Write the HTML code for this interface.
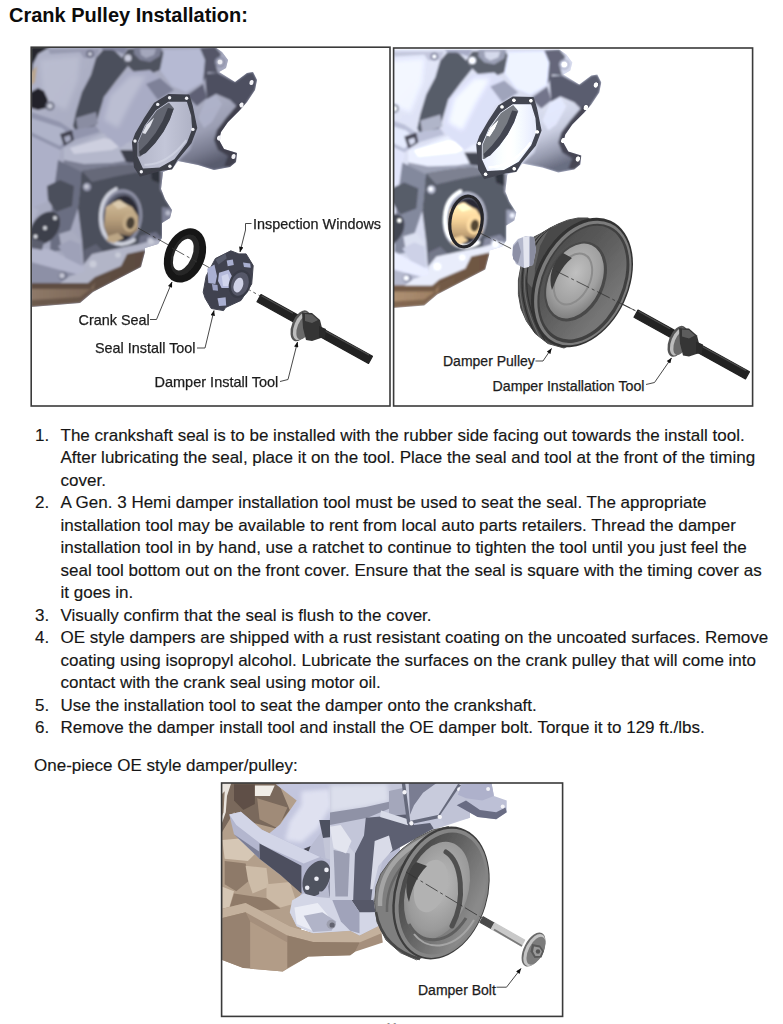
<!DOCTYPE html>
<html><head><meta charset="utf-8"><title>Crank Pulley Installation</title>
<style>
html,body{margin:0;padding:0;background:#fff;}
body{width:783px;height:1024px;position:relative;overflow:hidden;font-family:"Liberation Sans",sans-serif;color:#161616;}
.title{position:absolute;left:9px;top:3px;font-weight:bold;font-size:20px;line-height:24px;white-space:nowrap;color:#0c0c0c;}
.ln{position:absolute;left:60.5px;font-size:17px;line-height:20px;white-space:nowrap;-webkit-text-stroke:0.15px #161616;}
.num{position:absolute;left:35px;font-size:17px;line-height:20px;white-space:nowrap;-webkit-text-stroke:0.15px #161616;}
#art{position:absolute;left:0;top:0;}
.lbl{font-family:"Liberation Sans",sans-serif;fill:#1c1c1c;stroke:#1c1c1c;stroke-width:0.25px;}
.ld{fill:none;stroke:#333;stroke-width:0.9;}
.cl{fill:none;stroke:#333;stroke-width:0.8;stroke-dasharray:14 3 3 3;}
</style></head><body>
<div class="title">Crank Pulley Installation:</div>
<div class="num" style="top:426px">1.</div>
<div class="ln" style="top:426px">The crankshaft seal is to be installed with the rubber side facing out towards the install tool.</div>
<div class="ln" style="top:448px">After lubricating the seal, place it on the tool. Place the seal and tool at the front of the timing</div>
<div class="ln" style="top:471px">cover.</div>
<div class="num" style="top:493px">2.</div>
<div class="ln" style="top:493px">A Gen. 3 Hemi damper installation tool must be used to seat the seal. The appropriate</div>
<div class="ln" style="top:516px">installation tool may be available to rent from local auto parts retailers. Thread the damper</div>
<div class="ln" style="top:538px">installation tool in by hand, use a ratchet to continue to tighten the tool until you just feel the</div>
<div class="ln" style="top:561px">seal tool bottom out on the front cover. Ensure that the seal is square with the timing cover as</div>
<div class="ln" style="top:583px">it goes in.</div>
<div class="num" style="top:606px">3.</div>
<div class="ln" style="top:606px">Visually confirm that the seal is flush to the cover.</div>
<div class="num" style="top:628px">4.</div>
<div class="ln" style="top:628px">OE style dampers are shipped with a rust resistant coating on the uncoated surfaces. Remove</div>
<div class="ln" style="top:651px">coating using isopropyl alcohol. Lubricate the surfaces on the crank pulley that will come into</div>
<div class="ln" style="top:673px">contact with the crank seal using motor oil.</div>
<div class="num" style="top:696px">5.</div>
<div class="ln" style="top:696px">Use the installation tool to seat the damper onto the crankshaft.</div>
<div class="num" style="top:718px">6.</div>
<div class="ln" style="top:718px">Remove the damper install tool and install the OE damper bolt. Torque it to 129 ft./lbs.</div>
<div class="ln" style="left:34px;top:756px">One-piece OE style damper/pulley:</div>

<div class="pgno" style="position:absolute;left:385px;top:1020.5px;font-size:13px;line-height:13px;color:#8a8a8a">11</div>
<svg id="art" width="783" height="1024" viewBox="0 0 783 1024">
<defs>
<filter id="bl" x="-5%" y="-5%" width="110%" height="110%"><feGaussianBlur stdDeviation="0.7"/></filter>
<filter id="bl2" x="-20%" y="-20%" width="140%" height="140%"><feGaussianBlur stdDeviation="2"/></filter>
<filter id="bl3" x="-30%" y="-30%" width="160%" height="160%"><feGaussianBlur stdDeviation="4"/></filter>
<filter id="bright" color-interpolation-filters="sRGB" x="-5%" y="-5%" width="110%" height="110%"><feGaussianBlur stdDeviation="0.7"/><feComponentTransfer><feFuncR type="linear" slope="1.42" intercept="-0.075"/><feFuncG type="linear" slope="1.42" intercept="-0.075"/><feFuncB type="linear" slope="1.36" intercept="-0.075"/></feComponentTransfer></filter>
<clipPath id="c1"><rect x="31" y="47.5" width="359" height="358.5"/></clipPath>
<clipPath id="c2"><rect x="393.5" y="48" width="359" height="358"/></clipPath>
<clipPath id="c3"><rect x="221.5" y="783" width="341" height="233.5"/></clipPath>
<marker id="ah" viewBox="0 0 10 8" refX="9.5" refY="4" markerWidth="7" markerHeight="4.4" orient="auto" markerUnits="userSpaceOnUse"><path d="M0,0 L10,4 L0,8 z" fill="#111"/></marker>

<linearGradient id="gBody" x1="0" y1="0" x2="1" y2="1"><stop offset="0" stop-color="#b0b3c8"/><stop offset="1" stop-color="#999cb2"/></linearGradient>
<linearGradient id="gBr" x1="0" y1="0" x2="0.3" y2="1"><stop offset="0" stop-color="#b0b3c7"/><stop offset="0.55" stop-color="#9c9fb4"/><stop offset="0.82" stop-color="#777a8e"/><stop offset="1" stop-color="#595c6e"/></linearGradient>
<linearGradient id="gPan" x1="0" y1="0" x2="1" y2="0"><stop offset="0" stop-color="#8e7968"/><stop offset="0.5" stop-color="#7d6858"/><stop offset="1" stop-color="#5a493e"/></linearGradient>
<linearGradient id="gBore" x1="0" y1="0" x2="1" y2="0"><stop offset="0" stop-color="#b3b6c9"/><stop offset="0.5" stop-color="#c3c6d8"/><stop offset="1" stop-color="#b0b3c6"/></linearGradient>
<linearGradient id="gCrank" x1="0" y1="0" x2="0" y2="1"><stop offset="0" stop-color="#d2bd9b"/><stop offset="0.5" stop-color="#b89f7c"/><stop offset="1" stop-color="#85705a"/></linearGradient>
<linearGradient id="gRod" x1="0" y1="0" x2="0" y2="1"><stop offset="0" stop-color="#3a3a3a"/><stop offset="0.5" stop-color="#151515"/><stop offset="1" stop-color="#050505"/></linearGradient>
<clipPath id="cEng"><polygon points="31,47 215,47 222,52 228,60 226,68 219,72 235,82 247,73 253,72 257,80 255,90 247,102 240,110 228,122 221,132 219,140 224,149 237,153 236,162 230,167 214,170 198,165 178,161 173,168 163,172 161,189 165,199 172,210 170,218 162,223 162,238 158,244 145,248 145,252 141,267 93,292 80,303 31,307"/></clipPath><filter id="blE" x="-5%" y="-5%" width="110%" height="110%"><feGaussianBlur stdDeviation="1.1"/></filter><clipPath id="cSil2"><polygon points="533.6,237.2 540.8,233.6 549.7,228.2 558.6,223.8 567.6,220.2 578,218 588,218 620,240 600,330 564,348 548,343.6 535.4,333.7 526.5,321.2 521,308.7 518.4,294.4 518.4,280 521,265.8 526,262"/></clipPath>
<linearGradient id="gWall2" x1="0" y1="0" x2="1" y2="0.4"><stop offset="0" stop-color="#4a4a4a"/><stop offset="0.5" stop-color="#5c5c5c"/><stop offset="1" stop-color="#767676"/></linearGradient>
<radialGradient id="gBowl" cx="0.45" cy="0.4" r="0.7"><stop offset="0" stop-color="#c0c0c0"/><stop offset="0.6" stop-color="#a0a0a0"/><stop offset="1" stop-color="#727272"/></radialGradient>

<radialGradient id="gBowl3" cx="0.5" cy="0.45" r="0.65"><stop offset="0" stop-color="#bdbdbd"/><stop offset="0.7" stop-color="#9a9a9a"/><stop offset="1" stop-color="#7a7a7a"/></radialGradient>
<linearGradient id="gWall3" x1="0" y1="0" x2="1" y2="0.3"><stop offset="0" stop-color="#414141"/><stop offset="0.45" stop-color="#5e5e5e"/><stop offset="1" stop-color="#8a8a8a"/></linearGradient>

</defs>
<!-- illustration 1 -->
<g clip-path="url(#c1)">
<g filter="url(#bl)">
<g id="eng">
<polygon points="31,47 215,47 222,52 228,60 226,68 219,72 235,82 247,73 253,72 257,80 255,90 247,102 240,110 228,122 221,132 219,140 224,149 237,153 236,162 230,167 214,170 198,165 178,161 173,168 163,172 161,189 165,199 172,210 170,218 162,223 162,238 158,244 145,248 145,252 141,267 93,292 80,303 31,307" fill="url(#gBody)" />
<g clip-path="url(#cEng)"><g filter="url(#blE)"><polygon points="31,47 215,47 222,52 228,60 226,68 219,72 235,82 247,73 253,72 257,80 255,90 247,102 240,110 228,122 221,132 219,140 224,149 237,153 236,162 230,167 214,170 198,165 178,161 173,168 163,172 161,189 165,199 172,210 170,218 162,223 162,238 158,244 145,248 145,252 141,267 93,292 80,303 31,307" fill="url(#gBody)" /><polygon points="96,58 103,50 112,48 122,58 128,66 116,81 104,97 98,117 95,126 76,132 73,126 76,112 82,92 91,75" fill="#4c4f5c" />
<polygon points="76,118 96,112 98,124 78,131" fill="#8a8da2" />
<polygon points="40,60 80,56 78,80 66,110 44,100" fill="#c3c6d8" opacity="0.55" filter="url(#bl2)"/>
<polygon points="31,47 50,47 38,54 33,64 31,80" fill="#26272e" />
<polygon points="31,72 37,66 35,82 31,86" fill="#b9a68f" />
<polygon points="48,49 100,49 96,57 84,58 80,52 50,54" fill="#8e91a8" opacity="0.7"/>
<circle cx="90" cy="54" r="4" fill="#6f7288" />
<circle cx="90" cy="54" r="1.8" fill="#d9dbe8" />
<polygon points="31,92 38,88 44,91 48,100 46,108 38,110 31,108" fill="#23242b" />
<circle cx="50" cy="106" r="4.6" fill="#6b6e80" />
<circle cx="50" cy="106" r="2.6" fill="#c9ccd9" />
<polygon points="31,112 60,122 72,130 96,126 100,132 74,140 60,150 31,136" fill="#9295ad" />
<polygon points="31,118 62,128 70,136 60,146 31,132" fill="#b7bad0" opacity="0.8"/>
<polygon points="60,134 72,130 74,140 64,146" fill="#3f414d" />
<polygon points="64,137 70,135 71,140 66,143" fill="#a6a9c0" />
<polygon points="64,148 80,143 104,133 126,138 134,144 136,152 132,160 112,163 84,164 64,160" fill="#b4b7cb" />
<polygon points="70,148 104,138 128,143 112,150 74,154" fill="#cfd2e1" opacity="0.9"/>
<polygon points="64,160 84,164 112,163 132,160 130,168 112,172 84,173 63,168" fill="#7c7f93" />
<polygon points="62,168 84,173 112,172 124,169 122,178 96,182 70,178" fill="#464955" />
<polygon points="31,136 60,150 58,170 50,200 31,208" fill="#adb0c8" />
<polygon points="58,160 82,172 78,208 64,250 50,252 52,205" fill="#6b6e82" />
<polygon points="47,186 60,180 74,186 72,206 56,212 48,200" fill="#4c4f5c" />
<polygon points="59,234 72,230 80,240 79,264 64,262" fill="#a9acc0" />
<ellipse cx="45" cy="228" rx="12.5" ry="18.5" transform="rotate(38 45 228)" fill="#3e404b" />
<circle cx="55" cy="218" r="1.9" fill="#e0e2ea" />
<circle cx="45" cy="228" r="1.9" fill="#e0e2ea" />
<circle cx="35.5" cy="236.5" r="1.9" fill="#e0e2ea" />
<polygon points="31,206 38,210 33,222 31,224" fill="#b0b3c9" />
<polygon points="31,246 52,250 66,258 86,266 88,282 31,282" fill="#b3b6cc" />
<polygon points="31,262 60,270 84,276 86,283 31,283" fill="#8d90a6" />
<polygon points="58,246 70,240 80,244 82,266 66,258" fill="#9ea1b8" />
<circle cx="63" cy="276" r="4.5" fill="#71748a" />
<circle cx="62" cy="275.5" r="2.6" fill="#c4c6d4" />
<polygon points="31,238 44,242 42,250 31,248" fill="#5b5e6e" />
<polygon points="122,58 128,49 160,48 166,56 160,70 140,78 128,66" fill="#50535f" />
<polygon points="134,47 162,47 160,56 150,62 140,60 134,54" fill="#7c7f94" />
<polygon points="140,49 156,49 154,55 146,58 141,55" fill="#a4a7bc" />
<circle cx="128" cy="58" r="3.5" fill="#c9cbdc" />
<polygon points="100,47 128,47 124,54 112,50 103,50" fill="#8487a0" />
<polygon points="164,50 200,49 206,60 203,82 186,92 172,86 160,70" fill="#b6bad3" />
<polygon points="200,48 215,47 221,54 216,66 218,73 208,72 203,82 205,60" fill="#545767" />
<circle cx="220" cy="62" r="5.2" fill="#8b8ea6" />
<circle cx="220" cy="62" r="2.5" fill="#e6e7f0" />
<polygon points="104,97 128,72 150,70 172,88 150,104 132,140 120,148 98,128" fill="#a9acc5" />
<polygon points="110,96 130,76 146,76 132,100 118,128 104,120" fill="#c3c6d8" opacity="0.7" filter="url(#bl2)"/>
<polygon points="146,84 160,78 174,90 158,100" fill="#7e8198" />
<polygon points="205,74 218,73 235,82 247,73 253,72 257,80 255,90 247,102 240,110 230,100 216,94 207,100" fill="#4e5060" />
<polygon points="196,104 207,99 216,94 230,100 238,108 228,122 221,132 219,140 224,149 237,153 236,162 230,167 214,170 198,165 178,161 190,150 197,130" fill="url(#gBr)" />
<polygon points="238,104 247,102 240,112 229,124 223,134 222,141 226,148 238,152 236,163 230,167 224,166 228,156 218,150 214,140 217,130 226,118" fill="#3f414e" />
<polygon points="206,100 216,95 222,104 212,122 204,128 198,118" fill="#b0b4cc" opacity="0.8"/>
<polygon points="186,96 203,84 207,98 197,106" fill="#5e6174" />
<polygon points="82,171 100,168 114,166 137,164 150,166 163,172 161,189 165,199 172,210 170,218 162,223 162,238 158,244 145,248 126,250 120,263 93,273 84,267 82,240 78,208" fill="#4c4f5c" />
<polygon points="82,171 114,166 137,164 150,166 140,172 118,176 92,182" fill="#666979" />
<polygon points="120,150 140,150 150,166 137,164 126,162" fill="#3d3f4b" />
<polygon points="150,166 163,172 162,184 152,180" fill="#2f313a" />
<circle cx="87" cy="187" r="4.2" fill="#8d90a5" />
<circle cx="86.5" cy="186.5" r="2.2" fill="#c6c8d6" />
<polygon points="162,207 170,208 173,214 169,220 162,222" fill="#7d8096" />
<circle cx="168" cy="213" r="2.5" fill="#b9bccd" />
<polygon points="160,168 166,176 165,196 160,190" fill="#8c8fa3" opacity="0.8"/>
<ellipse cx="120.5" cy="217.5" rx="21.5" ry="28.5" transform="rotate(10 120.5 217.5)" fill="#8f92a6" />
<ellipse cx="121" cy="217.8" rx="18.5" ry="25.5" transform="rotate(10 121 217.8)" fill="#5d6072" />
<ellipse cx="122" cy="218.5" rx="16" ry="23" transform="rotate(10 122 218.5)" fill="#2b2c35" />
<path d="M134,240 C118,250 102,240 101,220 C100,204 106,194 116,189" fill="none" stroke="#d0d3de" stroke-width="3.6" stroke-linecap="round"/>
<path d="M106,207 L118,200 L132,207 L138,216 L138,230 L130,236 L118,234 L108,238 L104,226 Z" fill="url(#gCrank)" />
<ellipse cx="130" cy="222" rx="7.5" ry="10" transform="rotate(10 130 222)" fill="#c2ab88" />
<ellipse cx="130.5" cy="223" rx="4.2" ry="6" transform="rotate(10 130.5 223)" fill="#4a3f36" />
<polygon points="108,236 118,233 124,238 114,243 107,241" fill="#bca686" />
<polygon points="112,203 120,200 128,206 118,209" fill="#dccbae" />
<polygon points="84,250 96,244 104,252 112,258 120,262 93,273 84,267" fill="#5f6273" />
<circle cx="93" cy="262" r="4" fill="#8e91a6" />
<circle cx="117" cy="254" r="3" fill="#8e91a6" />
<polygon points="140,236 156,232 162,238 158,244 145,248 138,246" fill="#6d7084" />
<circle cx="150" cy="240" r="3" fill="#a3a6ba" />
<polygon points="31,283 87,283 94,274 120,263 126,250 145,247 145,252 141,267 93,292 80,303 31,307" fill="url(#gPan)" />
<polygon points="31,283 87,283 94,274 120,263 126,250 145,247 145,251 129,256 123,269 97,280 90,289 31,289" fill="#5f4e43" />
<polygon points="96,279 122,268 128,255 145,251 141,267 93,292" fill="#5b4a3f" opacity="0.85"/>
<polygon points="31,300 80,297 92,288 93,292 80,303 31,307" fill="#5e4d41" opacity="0.7"/>
<polygon points="84,264 92,254 124,247 140,244 157,239 162,242 158,247 145,250 127,254 121,266 95,277 88,283 60,283 70,276 84,272" fill="#b2b5c7" />
<circle cx="93" cy="264" r="3.6" fill="#c9ccd9" />
<circle cx="118" cy="255" r="2.8" fill="#c9ccd9" />
<circle cx="151" cy="241.5" r="3" fill="#c9ccd9" /></g></g><polygon points="154.6,103.4 168.9,94.7 188.8,95.2 191.9,105.4 196.5,127.9 190.9,142.7 176.6,160.1 171.5,168.8 160.8,170.3 140.3,175.9 134.7,167.2 132.7,142.2 135.7,134.0 144.9,118.2" fill="#3d3f4a" stroke="#3d3f4a" stroke-width="1.5" stroke-linejoin="round"/>
<path d="M156.7,110.5 L168.9,102.4 L186.3,102.4 L190.4,115.6 L191.4,128.9 L186.3,142.2 L174.0,158.5 L159.7,166.7 L143.4,167.7 L138.3,156.5 L138.3,142.2 L145.4,125.9 Z" fill="url(#gBore)" stroke="url(#gBore)" stroke-width="1.5" stroke-linejoin="round"/>
<polygon points="168.9,102.4 174.0,108.5 169.9,118.7 163.8,131.0 155.6,142.2 145.4,152.4 140.3,156.5 138.3,156.5 138.3,142.2 145.4,125.9 156.7,110.5" fill="#62656f" />
<polygon points="167.9,108.0 173.5,109.0 169.9,119.7 163.3,132.0 155.1,143.2 145.9,152.9 140.3,155.5 139.3,151.4 147.5,143.2 155.6,133.0 162.8,120.8" fill="#3d3f4a" />
<polygon points="142.4,133.0 146.5,124.8 154.1,117.7 150.5,125.9 145.4,134.0" fill="#dfe1ea" />
<path d="M144.4,164.7 C158.7,165.7 174.0,156.5 186.3,140.2" fill="none" stroke="#d0d3e2" stroke-width="2" opacity="0.8"/>
<circle cx="157.7" cy="104.4" r="1.7" fill="#f1f2f6" />
<circle cx="169.6" cy="97.8" r="1.7" fill="#f1f2f6" />
<circle cx="186.6" cy="98.3" r="1.7" fill="#f1f2f6" />
<circle cx="192.9" cy="129.4" r="1.7" fill="#f1f2f6" />
<circle cx="169.9" cy="166.2" r="1.7" fill="#f1f2f6" />
<circle cx="141.3" cy="171.8" r="1.7" fill="#f1f2f6" />
<circle cx="135.0" cy="141.0" r="1.7" fill="#f1f2f6" />
<ellipse cx="251.5" cy="82.5" rx="2.0" ry="2.6" transform="rotate(20 251.5 82.5)" fill="#f2f2f6" />
<ellipse cx="241.5" cy="105" rx="2.0" ry="2.6" transform="rotate(20 241.5 105)" fill="#f2f2f6" />
<ellipse cx="219" cy="138" rx="2.0" ry="2.6" transform="rotate(20 219 138)" fill="#f2f2f6" />
<ellipse cx="233.5" cy="156.5" rx="2.0" ry="2.6" transform="rotate(20 233.5 156.5)" fill="#f2f2f6" />
<circle cx="220" cy="62" r="2.3" fill="#ececf2" />
</g>
<path d="M138,228 L262,297" class="cl"/>
<ellipse cx="185" cy="255.4" rx="19.8" ry="28.2" transform="rotate(22 185 255.4)" fill="#151515" />
<ellipse cx="185" cy="255" rx="13" ry="21.5" transform="rotate(22 185 255)" fill="#262626" />
<ellipse cx="183.3" cy="254.6" rx="8.8" ry="16.8" transform="rotate(23 183.3 254.6)" fill="#ffffff" />
<path d="M172,248 L197,262" class="cl"/>
<polygon points="203.2,292.2 206.2,275.9 215.4,258.5 230.8,250.8 238.9,253.9 246.1,253.9 253.2,265.6 251.7,284.0 241.0,300.4 225.6,307.5 223.6,310.6 211.3,308.5 205.2,298.3" fill="#40424f" stroke="#40424f" stroke-width="1" stroke-linejoin="round"/>
<polygon points="207.3,268.7 214.4,264.6 217.0,275.9 215.4,284.0 208.3,283.0" fill="#aab0d2" />
<polygon points="219.0,272.8 228.7,269.7 232.8,277.9 230.8,288.1 221.6,288.1 218.0,281.0" fill="#b5badb" />
<polygon points="221.6,275.9 227.7,273.8 229.7,279.9 228.7,286.1 223.1,286.1" fill="#d0d4ec" />
<ellipse cx="239.9" cy="284.0" rx="10.8" ry="14.5" transform="rotate(18 239.9 284.0)" fill="#383a46" />
<ellipse cx="239.9" cy="284.0" rx="8.6" ry="12" transform="rotate(18 239.9 284.0)" fill="#565969" />
<ellipse cx="238.4" cy="285.1" rx="4.6" ry="7.6" transform="rotate(18 238.4 285.1)" fill="#cfd2e6" />
<polygon points="226.7,260.5 232.8,259.5 233.8,265.1 227.7,266.2" fill="#a9afd0" />
<polygon points="243.0,262.6 250.2,263.6 250.7,267.7 244.0,266.9" fill="#a9afd0" />
<polygon points="211.9,284.0 217.5,285.1 218.0,290.7 212.9,290.2" fill="#9aa0c2" />
<polygon points="217.5,298.3 225.6,297.3 226.2,305.5 219.0,306.0" fill="#a9afd0" />
<polygon points="215.4,259.5 225.6,253.4 226.7,258.5 218.5,264.6" fill="#585b6c" />
<polygon points="257.0,301.8 368.5,363.4 372.5,356.2 261.0,294.6" fill="#222222" stroke="#222222" stroke-width="1.2" stroke-linejoin="round"/>
<path d="M261.5,295.8 L293,313.2" stroke="#4c4c4c" stroke-width="1.3" fill="none"/>
<path d="M322,329.2 L369,355" stroke="#4c4c4c" stroke-width="1.3" fill="none"/>
<ellipse cx="300.5" cy="325.8" rx="8.6" ry="16.3" transform="rotate(22 300.5 325.8)" fill="#555555" />
<ellipse cx="301.5" cy="326.2" rx="7.2" ry="14.6" transform="rotate(22 301.5 326.2)" fill="#bdbdbd" />
<ellipse cx="304" cy="327.2" rx="6.4" ry="13" transform="rotate(22 304 327.2)" fill="#6a6a6a" />
<polygon points="302,312.5 312,313 320,320 322.5,330 321,338 312,341 306,340 303,328" fill="#343434" />
<polygon points="305,314 312,314.5 318,320 312,323 305,321" fill="#5c5c5c" />
<polygon points="319,326 326,329 325,338 319,338" fill="#2b2b2b" />
</g>
<text class="lbl" x="253" y="229" font-size="14.4">Inspection Windows</text>
<path d="M251.5,223.5 L245.5,223.5 L245.5,230 L240,252" class="ld" marker-end="url(#ah)"/>
<text class="lbl" x="78.5" y="325.3" font-size="14.4">Crank Seal</text>
<path d="M150,319.5 L156.5,319.5 L172,282" class="ld" marker-end="url(#ah)"/>
<text class="lbl" x="95" y="353.3" font-size="14.4">Seal Install Tool</text>
<path d="M197,348 L205,348 L214,310.5" class="ld" marker-end="url(#ah)"/>
<text class="lbl" x="154.5" y="387" font-size="14.5">Damper Install Tool</text>
<path d="M280,381.5 L288,379.5 L297.5,342" class="ld" marker-end="url(#ah)"/>
</g>
<!-- illustration 2 -->
<g clip-path="url(#c2)">
<g filter="url(#bright)"><use href="#eng" transform="translate(344.3,2.5)"/>
</g>
<g filter="url(#bl)">
<ellipse cx="466" cy="221.5" rx="16" ry="25.5" transform="rotate(8 466 221.5)" fill="none" stroke="#25252b" stroke-width="3.2"/>
<path d="M478,232 L650,318" class="cl"/>
<polygon points="533.6,237.2 540.8,233.6 549.7,228.2 558.6,223.8 567.6,220.2 578,218 588,218 620,240 600,330 564,348 548,343.6 535.4,333.7 526.5,321.2 521,308.7 518.4,294.4 518.4,280 521,265.8 526,262" fill="#4a4a4a" stroke="#4a4a4a" stroke-width="1" stroke-linejoin="round"/>
<polygon points="533.6,238 549,229 540,246 535,268 534,290 527,282 524,268" fill="#626262" />
<g clip-path="url(#cSil2)">
<path d="M559.4,222.6 C525,238 514.2,290 545,340.6" fill="none" stroke="#2e2e2e" stroke-width="1.1"/>
<path d="M558.8,223.2 C522,238 512.4,290 542,341.2" fill="none" stroke="#6c6c6c" stroke-width="1.1"/>
<path d="M558.2,223.8 C519,238 510.6,290 539,341.8" fill="none" stroke="#2e2e2e" stroke-width="1.1"/>
<path d="M557.6,224.4 C516,238 508.8,290 536,342.4" fill="none" stroke="#6c6c6c" stroke-width="1.1"/>
</g>
<polygon points="513,245 518,239 526,236 534,237 536,250 533,265 524,268 516,264 512,255" fill="#b4b8cc" />
<polygon points="513,247 518,241 521,252 518,264 513,259" fill="#8d90a6" />
<polygon points="523,237 529,236 529,267 524,268" fill="#e3e5ef" />
<polygon points="530,236.5 534,237 536,250 533,265 530,266" fill="#8a8d9f" />
<ellipse cx="582" cy="282.5" rx="46.5" ry="68" transform="rotate(25 582 282.5)" fill="#333333" />
<ellipse cx="582.8" cy="283" rx="44.2" ry="65.6" transform="rotate(25 582.8 283)" fill="#7c7c7c" />
<ellipse cx="583.4" cy="283.4" rx="41.5" ry="62.8" transform="rotate(25 583.4 283.4)" fill="#404040" />
<ellipse cx="583" cy="282.6" rx="39" ry="60" transform="rotate(25 583 282.6)" fill="url(#gWall2)" />
<ellipse cx="575.6" cy="281.5" rx="28.5" ry="42" transform="rotate(25 575.6 281.5)" fill="#484848" />
<ellipse cx="575" cy="281" rx="26" ry="39.5" transform="rotate(25 575 281)" fill="url(#gBowl)" />
<ellipse cx="573" cy="279" rx="17" ry="27" transform="rotate(25 573 279)" fill="none" stroke="#8c8c8c" stroke-width="2"/>
<path d="M563,253 C552,262 548,278 552,290 C556,280 560,268 572,258 Z" fill="#3c3c3c" />
<path d="M556,271 L650,318" class="cl"/>
<polygon points="634.0,317.3 745.5,378.9 749.5,371.7 638.0,310.1" fill="#222222" stroke="#222222" stroke-width="1.2" stroke-linejoin="round"/>
<path d="M638.5,311.3 L670,328.7" stroke="#4c4c4c" stroke-width="1.3" fill="none"/>
<path d="M699,344.7 L746,370.5" stroke="#4c4c4c" stroke-width="1.3" fill="none"/>
<ellipse cx="677.5" cy="341.3" rx="8.6" ry="16.3" transform="rotate(22 677.5 341.3)" fill="#555555" />
<ellipse cx="678.5" cy="341.7" rx="7.2" ry="14.6" transform="rotate(22 678.5 341.7)" fill="#bdbdbd" />
<ellipse cx="681" cy="342.7" rx="6.4" ry="13" transform="rotate(22 681 342.7)" fill="#6a6a6a" />
<polygon points="679,328.0 689,328.5 697,335.5 699.5,345.5 698,353.5 689,356.5 683,355.5 680,343.5" fill="#343434" />
<polygon points="682,329.5 689,330.0 695,335.5 689,338.5 682,336.5" fill="#5c5c5c" />
<polygon points="696,341.5 703,344.5 702,353.5 696,353.5" fill="#2b2b2b" />
</g>
<text class="lbl" x="443" y="366" font-size="14">Damper Pulley</text>
<path d="M535.5,361 L543,361 L551.5,348.5" class="ld" marker-end="url(#ah)"/>
<text class="lbl" x="492.5" y="390.5" font-size="14.2">Damper Installation Tool</text>
<path d="M646,384.5 L654.5,382.5 L671.5,358" class="ld" marker-end="url(#ah)"/>
</g>
<!-- illustration 3 -->
<g clip-path="url(#c3)">
<g filter="url(#bl)">
<polygon points="220.0,782.0 303.7,782.0 303.7,851.8 313.0,902.9 299.1,933.2 220.0,914.6" fill="#b39f8b" />
<polygon points="296.7,782.0 400.0,782.0 400.0,921.5 380.5,926.2 359.5,935.5 313.0,933.2 296.7,926.2 289.8,912.2 301.4,893.6 322.3,857.6 296.7,851.8 317.7,828.5 331.6,796.0" fill="#b9bcd2" />
<polygon points="220.0,782.0 278.1,782.0 289.8,809.9 275.8,828.5 247.9,821.5 234.0,812.2 220.0,835.5" fill="#7a695b" />
<polygon points="234.0,784.3 254.9,784.3 254.9,804.1 243.3,809.9 234.0,800.6" fill="#5f5046" />
<polygon points="254.9,785.5 274.7,785.5 270.0,796.0 254.9,796.0" fill="#f1ede7" />
<polygon points="220.0,782.0 231.6,782.0 227.0,796.0 225.8,812.2 220.0,828.5" fill="#e9e4de" />
<polygon points="220.0,796.0 224.7,791.3 223.5,812.2 220.0,821.5" fill="#8a7868" />
<polygon points="257.2,798.3 287.4,807.6 278.1,828.5 259.5,819.2" fill="#a08b78" />
<polygon points="222.3,840.1 247.9,837.8 257.2,851.8 247.9,861.1 224.7,858.7" fill="#d9cbb9" opacity="0.9"/>
<polygon points="224.7,861.1 245.6,863.4 250.2,879.7 236.3,891.3 224.7,884.3" fill="#8e7a69" />
<polygon points="245.6,865.7 266.5,868.0 268.8,886.7 252.6,893.6 247.9,879.7" fill="#cdbca8" />
<polygon points="222.3,886.7 234.0,891.3 229.3,907.6 222.3,908.7" fill="#d5c6b4" />
<polygon points="266.5,884.3 289.8,882.0 296.7,902.9 280.5,907.6 266.5,898.3" fill="#cbb9a5" />
<polygon points="234.0,893.6 266.5,898.3 280.5,908.7 243.3,912.2 229.3,908.7" fill="#8f7a68" />
<polygon points="222.3,908.7 245.6,902.9 289.8,926.2 313.0,933.2 350.2,930.8 359.5,935.5 380.5,925.0 382.8,942.5 354.9,951.8 350.2,955.3 308.4,956.4 282.8,971.5 243.3,968.0 222.3,959.9" fill="#a58f7b" />
<polygon points="222.3,908.7 245.6,902.9 289.8,926.2 313.0,933.2 350.2,930.8 359.5,935.5 380.5,925.0 381.4,933.2 359.5,942.5 313.0,942.0 287.4,935.5 245.6,912.2 222.3,918.0" fill="#c4b19d" />
<polygon points="222.3,918.0 245.6,912.2 250.2,921.5 250.2,968.0 243.3,968.0 222.3,959.9" fill="#97826f" />
<polygon points="250.2,921.5 287.4,942.5 287.4,968.0 282.8,971.5 250.2,968.7" fill="#b29c87" />
<polygon points="287.4,935.5 313.0,942.0 359.5,942.5 354.9,951.8 350.2,955.3 308.4,956.4 287.4,968.0" fill="#927d6b" />
<polygon points="275.8,784.3 331.6,783.2 340.9,796.0 331.6,814.6 322.3,830.8 310.7,846.0 296.7,851.8 275.8,848.3 265.3,836.7 280.5,823.9 296.7,800.6" fill="#c3c6de" />
<polygon points="301.4,791.3 329.3,789.0 331.6,805.3 317.7,828.5 301.4,842.5 285.1,840.1 289.8,821.5 301.4,805.3" fill="#e4e6f4" opacity="0.85" filter="url(#bl2)"/>
<polygon points="265.3,836.7 275.8,848.3 296.7,851.8 310.7,846.0 308.4,851.8 296.7,857.6 273.5,854.1" fill="#484a57" />
<polygon points="331.6,783.2 400.0,783.2 400.0,816.9 382.8,819.2 350.2,820.4 336.3,813.4 340.9,796.0" fill="#b7bad2" />
<polygon points="345.6,791.3 392.1,789.0 396.7,798.3 382.8,807.6 350.2,809.9" fill="#d9dbec" opacity="0.85" filter="url(#bl2)"/>
<polygon points="336.3,813.4 350.2,820.4 382.8,819.2 400.0,809.9 400.0,820.4 382.8,828.5 350.2,828.5" fill="#73768d" />
<polygon points="331.6,783.2 364.2,783.2 350.2,791.3 340.9,796.0" fill="#9497b0" />
<polygon points="229.3,814.6 240.9,811.8 261.9,829.7 301.4,848.3 322.3,857.6 331.6,870.4 329.3,884.3 317.7,897.1 303.7,893.6 280.5,875.0 259.5,858.7 234.0,834.3" fill="#b3b6ce" />
<polygon points="229.3,814.6 240.9,811.8 261.9,829.7 301.4,848.3 320.0,856.9 303.7,863.4 261.9,844.8 236.3,825.0" fill="#d2d5e7" />
<polygon points="259.5,843.6 301.4,865.7 301.4,893.6 280.5,875.0 259.5,858.7" fill="#4e505e" />
<polygon points="234.0,834.3 259.5,851.8 259.5,858.7" fill="#7c7f96" />
<ellipse cx="316.5" cy="878.5" rx="12.5" ry="19" transform="rotate(27 316.5 878.5)" fill="#50525f" />
<circle cx="326.5" cy="869.9" r="2.3" fill="#eceef5" />
<circle cx="316.5" cy="878.7" r="2.3" fill="#eceef5" />
<circle cx="307.2" cy="887.8" r="2.3" fill="#eceef5" />
<polygon points="319.2,891.5 351.1,891.5 353.6,904.3 319.2,909.4" fill="#b7bace" />
<polygon points="319.2,820.0 343.4,820.0 351.1,830.2 342.1,836.6 323.0,837.9" fill="#4e5160" />
<polygon points="323.0,837.9 342.1,836.6 353.6,832.8 351.1,845.5 338.3,862.1 325.5,858.3" fill="#c3c6d8" />
<polygon points="329.4,896.6 328.1,886.4 333.2,868.5 342.1,849.4 351.1,843.0 354.9,845.5 351.1,862.1 346.0,881.3 344.7,896.6" fill="#8c8fa3" />
<polygon points="338.3,853.2 348.5,845.5 351.1,848.1 343.4,862.1" fill="#b9bccd" />
<polygon points="353.6,834.0 371.5,827.7 389.4,826.4 381.7,836.6 372.8,851.9 371.5,883.9 375.4,912.0 361.3,914.5 351.1,901.7 351.1,862.1 354.9,845.5" fill="#565968" />
<polygon points="381.7,836.6 389.4,827.7 397.1,832.8 383.0,849.4 376.6,871.1 379.2,909.4 375.4,912.0 371.5,883.9 372.8,851.9" fill="#e0e2ec" />
<circle cx="357.5" cy="836.6" r="2.2" fill="#d5d7e2" />
<polygon points="292.1,900.6 303.7,893.6 317.7,897.1 331.6,898.3 350.2,898.3 359.5,912.2 380.5,912.2 380.5,925.0 359.5,935.5 350.2,930.8 313.0,933.2 296.7,926.2 289.8,912.2" fill="#d3d6e6" />
<polygon points="331.6,898.3 350.2,898.3 359.5,912.2 359.5,933.2 350.2,930.8 340.9,921.5" fill="#a0a3ba" />
<polygon points="294.4,907.6 317.7,902.9 329.3,916.9 313.0,930.8 296.7,923.9" fill="#eceef6" opacity="0.9"/>
<polygon points="303.7,915.7 322.3,912.2 336.3,921.5 331.6,930.8 313.0,932.0" fill="#b1b4c8" />
<circle cx="331.2" cy="924.3" r="4.6" fill="#9d9fae" />
<circle cx="332.1" cy="925.0" r="2.6" fill="#62646f" />
<polygon points="380.0,783.2 491.6,783.2 493.9,795.9 506.7,800.6 506.7,812.2 496.2,819.2 477.6,816.9 456.7,805.2 440.4,816.9 411.4,823.8 393.9,828.5 380.0,835.5" fill="#bdc0d6" />
<polygon points="330.0,782.0 470.0,782.0 470.0,817.8 437.3,828.5 408.7,835.6 383.6,857.1 372.9,900.0 330.0,900.0" fill="#c3c6d9" />
<polygon points="330.0,785.6 387.2,783.8 389.0,801.7 365.8,807.0 330.0,812.4" fill="#dcdfec" filter="url(#bl2)"/>
<polygon points="330.0,812.4 365.8,807.0 389.0,801.7 389.0,808.8 367.5,817.8 330.0,824.9" fill="#8f92a6" />
<polygon points="389.0,790.9 405.1,787.4 408.7,814.2 389.0,817.8" fill="#a4a7bb" />
<polygon points="330.0,824.9 355.0,853.5 353.2,900.0 330.0,900.0" fill="#cdd0e0" />
<polygon points="333.6,849.9 349.7,853.5 347.9,896.4 335.4,896.4" fill="#9b9eb2" />
<polygon points="330.0,826.7 340.7,824.9 351.5,841.0 346.1,853.5 333.6,848.2" fill="#e3e5ef" />
<polygon points="365.8,817.8 408.7,814.2 414.0,824.9 430.1,823.1 433.7,828.5 389.0,853.5 374.7,867.8 371.1,900.0 353.2,900.0 355.0,853.5 364.0,835.6" fill="#5d6072" />
<polygon points="374.7,841.0 389.0,835.6 392.6,849.9 378.3,866.0 372.9,889.3 370.2,889.3" fill="#d9dbe8" />
<polygon points="381.0,810.6 408.7,819.5 407.8,825.3 380.1,817.0" fill="#d8dbe8" />
<polygon points="403.3,782.0 459.6,782.0 459.6,786.5 439.4,816.3 408.7,822.8 403.7,784.7" fill="#c8cbdc" />
<polygon points="408.7,782.5 437.3,782.5 423.0,792.7 414.0,805.2 409.9,815.1" fill="#7a7d92" />
<path d="M403.3,782.0 L408.7,822.8 L439.4,816.3 L459.6,784.7" fill="none" stroke="#666a7c" stroke-width="3.4" stroke-linejoin="round"/>
<polygon points="459.6,786.5 470.0,782.0 470.0,817.8 444.4,824.0 439.4,816.3" fill="#c0c3d6" />
<circle cx="404.7" cy="791.8" r="1.9" fill="#f3f3f7" />
<circle cx="411.4" cy="822.8" r="1.9" fill="#f3f3f7" />
<circle cx="439.4" cy="816.9" r="1.9" fill="#f3f3f7" />
<circle cx="459.1" cy="789.2" r="1.9" fill="#f3f3f7" />
<polygon points="477.6,816.9 496.2,819.2 506.7,812.2 505.5,807.6 496.2,812.2 480.0,809.9 466.0,800.6 456.7,805.2" fill="#696c83" />
<polygon points="461.4,784.3 491.6,783.2 493.9,795.9 482.3,800.6 466.0,798.3 457.9,794.8" fill="#aeb1cb" />
<circle cx="488.1" cy="789.0" r="2" fill="#f3f3f7" />
<circle cx="502.7" cy="806.4" r="2" fill="#f3f3f7" />
<circle cx="440.0" cy="816.9" r="2" fill="#f3f3f7" />
<circle cx="404.4" cy="792.5" r="2" fill="#f3f3f7" />
<circle cx="411.4" cy="823.4" r="2" fill="#f3f3f7" />
<polygon points="374.5,902.6 376,886.5 380.7,874 389.7,861.5 402,849 416.5,838 432.6,830 448.7,826.6 470,850 440,950 416.5,959.8 400.4,952.7 386,940 377,922" fill="#7f7f7f" stroke="#5a5a5a" stroke-width="1" stroke-linejoin="round"/>
<path d="M380,906 C379,872 400,846 442,832" fill="none" stroke="#a4a4a4" stroke-width="4.5"/>
<path d="M387,912 C386,878 406,853 444,839" fill="none" stroke="#666" stroke-width="2.5"/>
<path d="M376,912 C380,938 398,953 420,959" fill="none" stroke="#474747" stroke-width="2.5"/>
<ellipse cx="441" cy="893" rx="46.5" ry="68" transform="rotate(17 441 893)" fill="#3c3c3c" />
<ellipse cx="441.7" cy="893.3" rx="44.8" ry="66.2" transform="rotate(17 441.7 893.3)" fill="#858585" />
<ellipse cx="442.3" cy="893.6" rx="41.5" ry="62.5" transform="rotate(17 442.3 893.6)" fill="url(#gWall3)" />
<ellipse cx="437" cy="890.5" rx="31" ry="50" transform="rotate(17 437 890.5)" fill="url(#gBowl3)" />
<path d="M446,852 C462,862 466,900 452,926" fill="none" stroke="#505050" stroke-width="5" stroke-linecap="round"/>
<ellipse cx="431" cy="886" rx="16" ry="27" transform="rotate(17 431 886)" fill="#b2b2b2" />
<path d="M416,862 C406,872 404,890 409,902 C412,888 417,876 427,866 Z" fill="#3f3f3f" />
<path d="M409,924 C420,946 448,946 466,918" fill="none" stroke="#5e5e5e" stroke-width="3"/>
<path d="M414,934 C428,952 456,950 474,920" fill="none" stroke="#a6a6a6" stroke-width="2"/>
<path d="M406,872 L482,918" class="cl"/>
<polygon points="479.9,922.3 491.4,928.8 494.6,923.2 483.1,916.7" fill="#4a4a4a" stroke="#4a4a4a" stroke-width="1.2" stroke-linejoin="round"/>
<polygon points="491.4,928.9 521.4,945.9 524.6,940.1 494.6,923.1" fill="#c9c9c9" stroke="#c9c9c9" stroke-width="1.2" stroke-linejoin="round"/>
<path d="M494,929.5 L522,946" stroke="#7a7a7a" stroke-width="1.8" fill="none"/>
<ellipse cx="533.5" cy="949.5" rx="9.5" ry="18.5" transform="rotate(27 533.5 949.5)" fill="#6a6a6a" />
<ellipse cx="534.3" cy="950" rx="8.6" ry="17.3" transform="rotate(27 534.3 950)" fill="#c4c4c4" />
<ellipse cx="536" cy="950.8" rx="7.4" ry="15.2" transform="rotate(27 536 950.8)" fill="#7c7c7c" />
<polygon points="532,944 540,945.5 544,951 541.5,957.5 534.5,958 530.5,951.5" fill="#5a5a5a" />
<polygon points="534,946.5 539.5,947.5 542,951.5 540,956 535.5,956 533,951.5" fill="#9a9a9a" />
<circle cx="538" cy="951.5" r="2.2" fill="#555" />
</g>
<text class="lbl" x="418" y="994.8" font-size="14">Damper Bolt</text>
<path d="M496.5,987.2 L506.5,987.2 L521,968.5" class="ld" marker-end="url(#ah)"/>
</g>
<!-- frames -->
<rect x="31.2" y="47.2" width="358.8" height="358.8" fill="none" stroke="#3a3a3a" stroke-width="1.6"/>
<rect x="393.6" y="48" width="359" height="358" fill="none" stroke="#3a3a3a" stroke-width="1.6"/>
<rect x="221.6" y="783" width="341" height="233.4" fill="none" stroke="#3a3a3a" stroke-width="1.6"/>
</svg>
</body></html>
